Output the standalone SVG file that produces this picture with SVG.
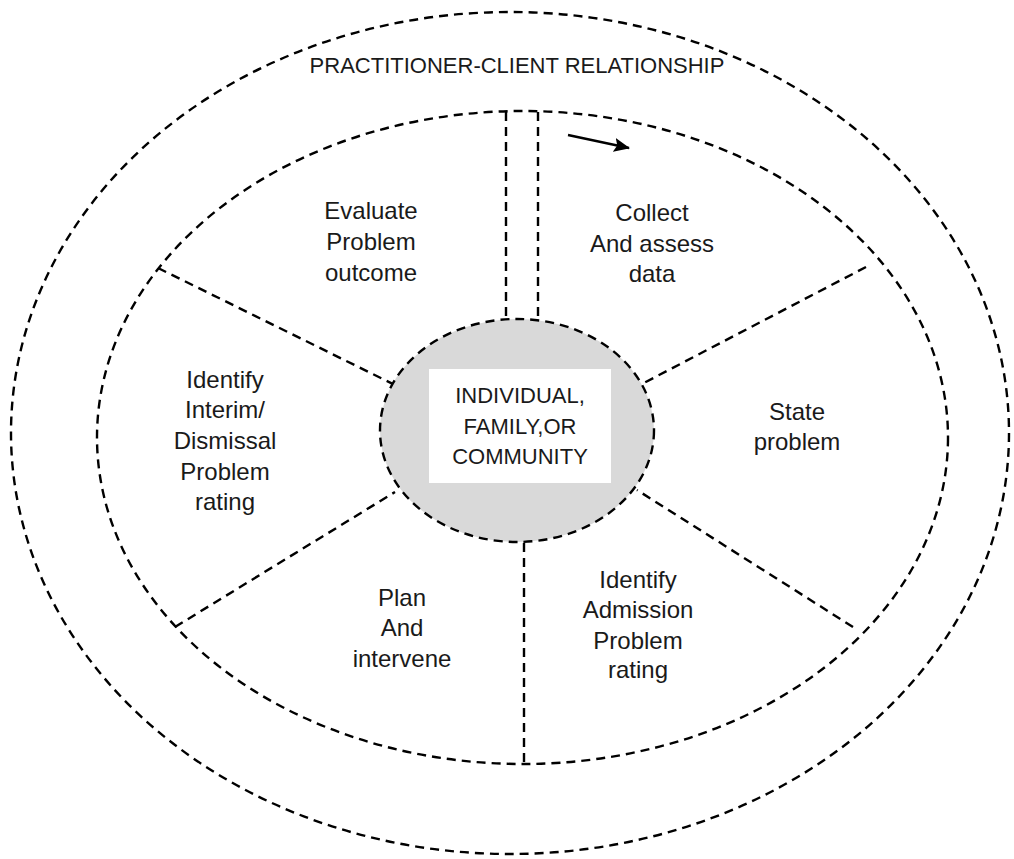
<svg xmlns="http://www.w3.org/2000/svg" width="1014" height="859" viewBox="0 0 1014 859">
<style>
.d{fill:none;stroke:#000;stroke-width:2.4;stroke-dasharray:9 6}
.t{font-family:"Liberation Sans",Arial,sans-serif;font-size:24px;fill:#1a1a1a;text-anchor:middle}
.c{font-family:"Liberation Sans",Arial,sans-serif;font-size:22px;fill:#1a1a1a;text-anchor:middle}
</style>
<defs>
<marker id="ah" viewBox="0 0 16 14" refX="15" refY="7" markerWidth="16" markerHeight="14" markerUnits="userSpaceOnUse" orient="auto">
<path d="M0,0 L16,7 L0,14 L3,7 z" fill="#000"/>
</marker>
</defs>
<rect width="1014" height="859" fill="#fff"/>
<g id="outer-ring">
<ellipse class="d" cx="510" cy="433" rx="499" ry="421"/>
<text class="c" x="517" y="73" font-size="21">PRACTITIONER-CLIENT RELATIONSHIP</text>
</g>
<g id="inner-ring">
<ellipse class="d" cx="522.5" cy="437.5" rx="425.5" ry="326.5"/>
</g>
<g id="connectors">
<line class="d" x1="506" y1="112" x2="506" y2="320"/>
<line class="d" x1="538" y1="112" x2="538" y2="320"/>
<line class="d" x1="158" y1="268" x2="395" y2="385"/>
<line class="d" x1="866" y1="267" x2="640" y2="385"/>
<line class="d" x1="175" y1="627" x2="395" y2="492"/>
<line class="d" x1="853" y1="627" x2="637" y2="490"/>
<line class="d" x1="524" y1="543" x2="524" y2="764"/>
<line x1="568" y1="135" x2="629" y2="148" stroke="#000" stroke-width="2.4" marker-end="url(#ah)"/>
</g>
<g id="center">
<ellipse cx="517" cy="430.5" rx="137" ry="111.5" fill="#d9d9d9" stroke="#000" stroke-width="2.4" stroke-dasharray="9 6"/>
<rect x="429" y="369" width="182" height="114" fill="#fff"/>
<text class="c" x="520" y="403">INDIVIDUAL,</text>
<text class="c" x="520" y="434">FAMILY,OR</text>
<text class="c" x="520" y="464">COMMUNITY</text>
</g>
<g id="evaluate">
<text class="t" x="371" y="219">Evaluate</text>
<text class="t" x="371" y="250">Problem</text>
<text class="t" x="371" y="281">outcome</text>
</g>
<g id="collect">
<text class="t" x="652" y="221">Collect</text>
<text class="t" x="652" y="252">And assess</text>
<text class="t" x="652" y="282">data</text>
</g>
<g id="state">
<text class="t" x="797" y="420">State</text>
<text class="t" x="797" y="450">problem</text>
</g>
<g id="admission">
<text class="t" x="638" y="588">Identify</text>
<text class="t" x="638" y="618">Admission</text>
<text class="t" x="638" y="649">Problem</text>
<text class="t" x="638" y="678">rating</text>
</g>
<g id="plan">
<text class="t" x="402" y="606">Plan</text>
<text class="t" x="402" y="636">And</text>
<text class="t" x="402" y="667">intervene</text>
</g>
<g id="interim">
<text class="t" x="225" y="388">Identify</text>
<text class="t" x="225" y="418">Interim/</text>
<text class="t" x="225" y="449">Dismissal</text>
<text class="t" x="225" y="480">Problem</text>
<text class="t" x="225" y="510">rating</text>
</g>
</svg>
